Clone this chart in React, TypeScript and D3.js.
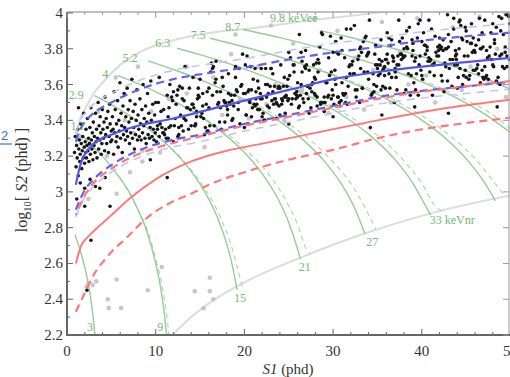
import React from 'react';
import * as d3 from 'd3';

// ER band (blue) and NR band (red) curves: [S1, log10 S2]
const erMedian = [[1, 3.04], [1.5, 3.15], [2, 3.21], [3, 3.27], [5, 3.32], [8, 3.37], [12, 3.41], [16, 3.46], [20, 3.51], [25, 3.57], [30, 3.63], [35, 3.67], [40, 3.70], [45, 3.725], [50, 3.75]];
const erUpper = [[1, 3.28], [1.5, 3.35], [2, 3.39], [3, 3.44], [5, 3.50], [8, 3.57], [12, 3.63], [16, 3.665], [20, 3.695], [25, 3.74], [30, 3.78], [35, 3.81], [40, 3.845], [45, 3.87], [50, 3.89]];
const erLower = [[1, 2.90], [1.5, 2.96], [2, 3.01], [3, 3.07], [5, 3.15], [8, 3.23], [11, 3.28], [15, 3.32], [20, 3.38], [25, 3.43], [30, 3.48], [35, 3.53], [40, 3.565], [45, 3.59], [50, 3.615]];
const erUpperLight = [[1, 3.33], [1.5, 3.40], [2, 3.44], [3, 3.49], [5, 3.55], [8, 3.62], [12, 3.68], [16, 3.715], [20, 3.745], [25, 3.79], [30, 3.83], [35, 3.86], [40, 3.895], [45, 3.92], [50, 3.94]];
const erLowerLight = [[1, 2.86], [1.5, 2.92], [2, 2.97], [3, 3.03], [5, 3.11], [8, 3.19], [11, 3.24], [15, 3.28], [20, 3.34], [25, 3.39], [30, 3.44], [35, 3.49], [40, 3.525], [45, 3.55], [50, 3.575]];
const nrMedian = [[1, 2.60], [1.6, 2.70], [2.2, 2.74], [3, 2.78], [5, 2.87], [7, 2.96], [10, 3.07], [14, 3.17], [18, 3.23], [22, 3.27], [28, 3.33], [35, 3.40], [43, 3.47], [50, 3.515]];
const nrUpper = [[1, 2.87], [2, 2.98], [3, 3.05], [5, 3.13], [8, 3.21], [11, 3.26], [15, 3.31], [20, 3.37], [25, 3.42], [30, 3.47], [35, 3.52], [40, 3.56], [45, 3.59], [50, 3.62]];
const nrLower = [[1, 2.33], [2, 2.435], [3, 2.535], [4.5, 2.636], [6.8, 2.748], [9, 2.854], [11.6, 2.938], [14, 2.99], [16, 3.04], [20, 3.11], [25, 3.18], [30, 3.235], [35, 3.30], [40, 3.35], [45, 3.385], [50, 3.415]];

// gray boundaries
const boundUpper = [[0.9, 3.30], [1.5, 3.41], [2, 3.46], [3, 3.55], [4, 3.61], [6, 3.71], [9, 3.80], [13, 3.86], [17, 3.895], [21, 3.915], [26, 3.95], [33, 3.99], [38, 4.02]];
const boundLower = [[11.9, 2.20], [14, 2.30], [17, 2.41], [20.6, 2.51], [26.2, 2.63], [33.7, 2.77], [41, 2.88], [50, 2.98]];

// energy contours (solid) and their dashed companions
const contours = [
  [[0.9, 2.76], [1.5, 2.67], [2.0, 2.58], [2.5, 2.46], [2.9, 2.32], [3.15, 2.2]],
  [[1.13, 3.33], [2, 3.30], [3, 3.25], [4, 3.20], [5, 3.14], [6, 3.075], [7, 3.0], [8, 2.90], [9, 2.78], [10, 2.60], [10.5, 2.48], [11, 2.31], [11.23, 2.2]],
  [[3.1, 3.538], [5, 3.488], [7, 3.428], [9, 3.359], [11, 3.277], [13, 3.176], [15, 3.043], [16, 2.958], [17, 2.852], [18, 2.711], [18.6, 2.598], [19.17, 2.452]],
  [[5.75, 3.65], [8, 3.605], [11, 3.536], [14, 3.454], [17, 3.352], [20, 3.22], [22, 3.102], [24, 2.941], [25, 2.829], [26, 2.679], [26.3, 2.625]],
  [[9.13, 3.732], [12, 3.684], [15, 3.628], [18, 3.563], [21, 3.486], [24, 3.393], [27, 3.274], [29, 3.172], [31, 3.039], [32.5, 2.902], [33.6, 2.765]],
  [[12.4, 3.803], [15, 3.767], [19, 3.704], [23, 3.63], [27, 3.542], [31, 3.43], [34, 3.323], [37, 3.179], [39, 3.048], [40.5, 2.915], [41.0, 2.87]],
  [[16.12, 3.859], [20, 3.81], [24, 3.754], [28, 3.689], [32, 3.612], [36, 3.52], [40, 3.401], [43, 3.285], [45, 3.186], [47, 3.057], [48.3, 2.95]],
  [[19.84, 3.908], [24, 3.862], [28, 3.812], [32, 3.756], [36, 3.691], [40, 3.615], [44, 3.523], [47, 3.438], [50, 3.332]],
  [[28.5, 3.902], [32, 3.863], [36, 3.813], [40, 3.757], [44, 3.693], [47, 3.638], [50, 3.574]],
];
const contoursDashed = [
  [[6, 3.075], [7, 2.995], [8, 2.90], [9.1, 2.78], [10.15, 2.60], [10.7, 2.48], [11.25, 2.31], [11.5, 2.2]],
  [[11, 3.277], [13.1, 3.176], [15.2, 3.043], [16.3, 2.958], [17.35, 2.852], [18.45, 2.711], [19.1, 2.598], [19.75, 2.47]],
  [[14, 3.454], [17.3, 3.352], [20.5, 3.22], [22.7, 3.102], [24.8, 2.941], [25.9, 2.829], [27.0, 2.679], [27.4, 2.65]],
  [[18, 3.563], [21.4, 3.486], [24.6, 3.393], [27.8, 3.274], [29.9, 3.172], [32.1, 3.039], [33.7, 2.902], [34.8, 2.79]],
  [[23, 3.63], [27.4, 3.542], [31.6, 3.43], [34.8, 3.323], [37.9, 3.179], [40, 3.048], [41.6, 2.915], [42.4, 2.89]],
  [[28, 3.689], [32.4, 3.612], [36.6, 3.52], [40.8, 3.401], [43.9, 3.285], [46, 3.186], [48.1, 3.057], [49.4, 2.975]],
  [[36, 3.691], [40.5, 3.615], [44.6, 3.523], [47.8, 3.438], [50.5, 3.33]],
];

const eeLabels = [
  { t: '1.7', s1: 0.4, v: 3.346 }, { t: '2.9', s1: 0.2, v: 3.52 }, { t: '4', s1: 4.3, v: 3.637 },
  { t: '5.2', s1: 7.1, v: 3.726 }, { t: '6.3', s1: 10.8, v: 3.81 }, { t: '7.5', s1: 14.8, v: 3.855 },
  { t: '8.7', s1: 18.7, v: 3.90 },
];
const nrLabels = [
  { t: '3', s1: 2.6, v: 2.222 }, { t: '9', s1: 10.5, v: 2.222 }, { t: '15', s1: 19.5, v: 2.385 },
  { t: '21', s1: 26.8, v: 2.558 }, { t: '27', s1: 34.4, v: 2.698 },
];

// events, S1 < 10
const eventsLow = [
  [0.85, 3.22], [0.93, 3.31], [1.02, 3.14], [1.08, 3.26], [1.15, 3.19], [1.21, 3.35], [1.27, 3.09], [1.33, 3.24], [1.38, 3.29], [1.44, 3.17], [1.49, 3.21], [1.56, 3.38], [1.61, 3.27], [1.66, 3.13], [1.72, 3.23], [1.78, 3.31], [1.83, 3.19], [1.88, 3.44], [1.94, 3.25], [1.99, 3.16],
  [2.05, 3.28], [2.11, 3.22], [2.14, 3.35], [2.19, 3.19], [2.26, 3.26], [2.31, 3.41], [2.36, 3.23], [2.42, 3.30], [2.47, 3.17], [2.53, 3.27], [2.58, 3.36], [2.64, 3.21], [2.69, 3.47], [2.75, 3.29], [2.81, 3.24], [2.86, 3.33], [2.92, 3.18], [2.97, 3.39],
  [3.04, 3.26], [3.09, 3.31], [3.16, 3.22], [3.21, 3.44], [3.27, 3.28], [3.33, 3.35], [3.38, 3.19], [3.45, 3.30], [3.51, 3.50], [3.57, 3.24], [3.62, 3.37], [3.69, 3.29], [3.74, 3.42], [3.81, 3.33], [3.86, 3.21], [3.93, 3.27], [3.98, 3.46],
  [4.05, 3.35], [4.11, 3.30], [4.17, 3.39], [4.24, 3.23], [4.29, 3.53], [4.36, 3.32], [4.42, 3.41], [4.48, 3.27], [4.55, 3.36], [4.61, 3.45], [4.67, 3.22], [4.74, 3.31], [4.8, 3.49], [4.86, 3.38], [4.93, 3.28], [4.99, 3.34],
  [1.1, 2.96], [2.0, 3.02], [3.2, 3.03], [4.3, 3.08], [2.0, 2.92], [2.7, 2.73], [2.25, 2.45], [3.7, 3.02], [1.5, 3.05], [2.6, 3.07], [1.3, 3.47], [4.85, 2.92],
  [5.06, 3.29], [5.12, 3.42], [5.19, 3.35], [5.25, 3.21], [5.31, 3.56], [5.38, 3.33], [5.44, 3.46], [5.52, 3.28], [5.58, 3.38], [5.63, 3.31], [5.71, 3.51], [5.77, 3.25], [5.84, 3.40], [5.9, 3.34], [5.97, 3.61],
  [6.04, 3.30], [6.1, 3.44], [6.17, 3.37], [6.23, 3.22], [6.31, 3.48], [6.37, 3.32], [6.44, 3.55], [6.5, 3.36], [6.58, 3.29], [6.63, 3.42], [6.71, 3.34], [6.78, 3.58], [6.84, 3.31], [6.9, 3.46], [6.98, 3.39],
  [7.05, 3.27], [7.11, 3.51], [7.18, 3.33], [7.26, 3.41], [7.32, 3.63], [7.38, 3.30], [7.46, 3.45], [7.53, 3.36], [7.6, 3.24], [7.67, 3.49], [7.73, 3.32], [7.8, 3.40], [7.87, 3.57], [7.94, 3.29],
  [8.01, 3.43], [8.09, 3.35], [8.15, 3.31], [8.22, 3.52], [8.3, 3.38], [8.36, 3.29], [8.44, 3.46], [8.51, 3.33], [8.58, 3.60], [8.65, 3.37], [8.71, 3.41], [8.79, 3.30], [8.86, 3.48], [8.93, 3.27],
  [9.0, 3.39], [9.08, 3.55], [9.15, 3.32], [9.22, 3.44], [9.3, 3.30], [9.37, 3.36], [9.45, 3.62], [9.51, 3.40], [9.59, 3.31], [9.66, 3.49], [9.73, 3.35], [9.81, 3.29], [9.88, 3.43], [9.95, 3.33], [9.4, 3.18],
];

// events, 10 <= S1 < 20
const eventsMid = [
  [14.3, 3.47], [10.8, 3.33], [17.6, 3.59], [12.2, 3.41], [19.4, 3.69], [15.9, 3.34], [11.5, 3.47], [18.3, 3.50], [13.1, 3.34], [16.7, 3.61], [10.2, 3.35], [14.9, 3.53], [19.8, 3.77], [12.9, 3.37], [17.1, 3.50],
  [11.1, 3.35], [15.3, 3.55], [18.9, 3.54], [13.7, 3.35], [16.2, 3.67], [10.5, 3.38], [19.1, 3.57], [14.6, 3.42], [12.5, 3.57], [17.9, 3.50], [15.6, 3.36], [11.8, 3.53], [18.5, 3.54], [13.4, 3.40], [16.9, 3.56],
  [11.3, 3.54], [18.1, 3.43], [13.9, 3.46], [16.4, 3.69], [10.1, 3.28], [19.6, 3.59], [15.1, 3.42], [12.7, 3.59], [17.4, 3.35], [14.1, 3.49], [11.9, 3.51], [18.7, 3.41], [16.0, 3.47], [13.3, 3.70], [10.7, 3.36],
  [19.2, 3.56], [15.8, 3.34], [12.0, 3.56], [17.7, 3.51], [14.4, 3.37], [11.6, 3.60], [18.0, 3.48], [13.0, 3.52], [16.6, 3.37], [10.4, 3.64], [19.9, 3.55], [15.4, 3.41], [12.4, 3.54], [17.2, 3.39], [14.7, 3.52],
  [15.2, 3.44], [10.3, 3.50], [18.6, 3.40], [13.6, 3.47], [16.8, 3.63], [12.1, 3.37], [19.3, 3.50], [14.2, 3.64], [11.4, 3.30], [17.3, 3.56], [15.7, 3.49], [10.9, 3.33], [19.0, 3.64], [13.2, 3.41], [16.3, 3.72],
  [12.6, 3.32], [18.2, 3.55], [14.8, 3.54], [11.0, 3.32], [17.8, 3.50], [11.3, 3.08],
  [10.6, 3.45], [16.1, 3.37], [13.8, 3.58], [18.4, 3.49], [11.7, 3.37], [15.0, 3.63], [19.5, 3.38], [12.3, 3.49], [17.0, 3.49], [14.5, 3.38], [10.0, 3.50], [18.8, 3.48], [16.5, 3.70], [11.2, 3.30], [13.5, 3.47],
  [19.7, 3.60], [15.5, 3.32], [12.8, 3.43], [17.5, 3.64], [14.0, 3.37], [10.9, 3.46], [18.1, 3.46], [16.0, 3.58], [12.5, 3.31], [15.3, 3.48], [19.0, 3.70], [11.5, 3.36], [13.2, 3.51], [17.3, 3.47], [14.8, 3.58],
  [10.4, 3.31], [18.6, 3.51], [16.8, 3.73], [12.0, 3.28], [14.2, 3.49], [19.3, 3.46], [15.8, 3.56], [11.4, 3.42], [17.8, 3.39], [13.0, 3.58], [10.2, 3.37], [16.4, 3.54], [12.6, 3.36], [18.2, 3.66], [14.6, 3.45],
];

// events, S1 >= 20
const eventsHigh = [
  [37.4, 3.71], [22.8, 3.47], [45.1, 3.84], [29.3, 3.61], [41.7, 3.76], [24.6, 3.44], [33.9, 3.67], [48.2, 3.83], [20.9, 3.47], [39.5, 3.86], [27.1, 3.59], [43.8, 3.76], [31.2, 3.54], [46.6, 3.80], [23.4, 3.52],
  [36.1, 3.89], [49.3, 3.69], [26.0, 3.61], [34.7, 3.77], [42.5, 3.56], [21.6, 3.58], [38.8, 3.65], [30.4, 3.78], [47.9, 3.74], [25.3, 3.49], [44.2, 3.80], [32.6, 3.53], [28.5, 3.81], [40.1, 3.63], [35.8, 3.70],
  [20.3, 3.76], [43.1, 3.69], [27.8, 3.71], [38.2, 3.57], [31.9, 3.71], [46.0, 3.68], [24.1, 3.71], [35.3, 3.66], [49.8, 3.98], [22.2, 3.40], [41.0, 3.74], [29.9, 3.57], [33.2, 3.78], [47.4, 3.75], [26.7, 3.50],
  [44.9, 3.92], [21.1, 3.49], [37.9, 3.75], [30.8, 3.48], [42.8, 3.80], [25.9, 3.54], [48.8, 3.76], [36.6, 3.85], [23.7, 3.49], [40.6, 3.81], [28.9, 3.50], [45.7, 3.78], [34.1, 3.96], [20.6, 3.51], [39.1, 3.61],
  [32.1, 3.71], [47.0, 3.63], [21.9, 3.69], [40.9, 3.67], [27.3, 3.68], [36.9, 3.50], [44.6, 3.85], [29.6, 3.65], [24.9, 3.51], [49.0, 3.97], [34.4, 3.55], [20.1, 3.55], [42.1, 3.80], [38.5, 3.66], [23.0, 3.69],
  [45.4, 3.65], [31.5, 3.91], [48.5, 3.61], [26.4, 3.60], [35.0, 3.71], [41.4, 3.65], [28.1, 3.72], [46.9, 3.64], [33.6, 3.86], [22.5, 3.53], [39.8, 3.76], [30.1, 3.49], [43.5, 3.74], [25.5, 3.71], [37.1, 3.64],
  [46.3, 3.71], [20.7, 3.70], [35.6, 3.59], [41.9, 3.76], [28.4, 3.72], [44.0, 3.58], [23.9, 3.59], [38.6, 3.92], [31.7, 3.59], [49.6, 3.76], [26.2, 3.48], [33.0, 3.80], [47.7, 3.81], [21.4, 3.49], [42.9, 3.99],
  [36.4, 3.58], [24.4, 3.59], [40.3, 3.82], [29.0, 3.45], [45.9, 3.79], [27.6, 3.60], [37.7, 3.77], [34.9, 3.59], [48.0, 3.94], [22.9, 3.59], [43.4, 3.59], [30.6, 3.77], [39.4, 3.66], [25.1, 3.65], [46.8, 3.89],
  [21.3, 3.56], [44.7, 3.65], [32.9, 3.76], [39.9, 3.68], [26.9, 3.79], [48.4, 3.62], [35.5, 3.73], [23.2, 3.56], [42.3, 3.62], [30.0, 3.78], [46.2, 3.69], [37.3, 3.76], [28.8, 3.88], [41.2, 3.54], [24.8, 3.59],
  [49.1, 3.70], [33.8, 3.76], [20.4, 3.56], [38.0, 3.55], [44.4, 3.93], [27.4, 3.58], [35.2, 3.74], [45.0, 3.64], [31.0, 3.79], [22.7, 3.55], [47.2, 3.64], [29.5, 3.75], [40.8, 3.75], [25.7, 3.55], [36.7, 3.76],
  [38.3, 3.81], [23.6, 3.50], [43.9, 3.74], [30.9, 3.86], [47.5, 3.63], [26.5, 3.67], [34.0, 3.63], [41.5, 3.87], [20.0, 3.36], [36.2, 3.72], [45.6, 3.83], [28.2, 3.53], [32.3, 3.66], [49.7, 3.99], [24.2, 3.52],
  [39.3, 3.75], [22.0, 3.42], [42.0, 3.86], [27.9, 3.64], [46.4, 3.66], [33.4, 3.84], [21.8, 3.52], [37.6, 3.77], [48.6, 3.64], [29.7, 3.87], [44.8, 3.76], [25.0, 3.52], [40.4, 3.82], [31.4, 3.50], [35.9, 3.74],
  [42.7, 3.70], [27.0, 3.71], [45.3, 3.63], [33.1, 3.69], [38.9, 3.85], [21.2, 3.48], [47.8, 3.74], [30.3, 3.84], [24.0, 3.43], [36.8, 3.75], [49.4, 3.78], [26.6, 3.52], [40.0, 3.84], [29.2, 3.61], [43.6, 3.97],
  [34.6, 3.56], [22.4, 3.60], [46.1, 3.82], [31.6, 3.49], [39.7, 3.71], [25.6, 3.71], [48.1, 3.70], [35.4, 3.85], [44.1, 3.64], [20.8, 3.57], [37.0, 3.69], [28.6, 3.50], [41.8, 3.81], [32.4, 3.93], [23.3, 3.49],
  [29.8, 3.67], [44.3, 3.69], [21.5, 3.62], [37.2, 3.57], [48.9, 3.90], [33.5, 3.67], [25.4, 3.52], [41.1, 3.91], [46.7, 3.80], [30.7, 3.50], [23.8, 3.58], [38.4, 3.80], [27.2, 3.52], [43.0, 3.88], [35.1, 3.65],
  [20.5, 3.57], [47.3, 3.65], [32.0, 3.91], [40.7, 3.73], [26.3, 3.54], [45.5, 3.83], [34.3, 3.54], [22.6, 3.60], [39.0, 3.83], [49.9, 3.74], [28.0, 3.54], [36.3, 3.86], [42.4, 3.79], [24.5, 3.53], [31.3, 3.75],
  [35.7, 3.69], [20.2, 3.43], [43.3, 3.84], [28.3, 3.67], [39.6, 3.54], [47.1, 3.96], [24.7, 3.54], [32.8, 3.74], [41.3, 3.71], [22.1, 3.44], [37.5, 3.84], [45.8, 3.68], [30.2, 3.68], [49.5, 3.99], [26.1, 3.47],
  [36.0, 3.74], [43.7, 3.71], [21.0, 3.63], [33.3, 3.58], [40.2, 3.89], [48.3, 3.77], [27.5, 3.47], [38.1, 3.76], [44.5, 3.86], [23.1, 3.51], [31.1, 3.55], [46.5, 3.97], [34.8, 3.71], [25.8, 3.52], [42.2, 3.81],
  [23.5, 3.52], [41.6, 3.78], [29.1, 3.50], [36.5, 3.82], [47.6, 3.76], [21.7, 3.46], [33.7, 3.87], [44.0, 3.71], [26.8, 3.70], [38.7, 3.54], [31.8, 3.70], [49.2, 3.88], [24.3, 3.51], [42.6, 3.72], [28.7, 3.89],
  [35.9, 3.58], [45.9, 3.79], [20.6, 3.50], [37.8, 3.86], [30.5, 3.53], [43.2, 3.74], [25.6, 3.67], [34.6, 3.60], [48.7, 3.98], [22.3, 3.40], [40.4, 3.77], [27.7, 3.61], [46.4, 3.85], [32.5, 3.57], [39.2, 3.73],
  [21.2, 3.69], [44.9, 3.68], [28.0, 3.63], [35.4, 3.57], [49.9, 3.94], [24.9, 3.63], [37.0, 3.67], [42.0, 3.82], [30.9, 3.51], [46.9, 3.81], [26.2, 3.88], [33.3, 3.58], [40.9, 3.73], [23.0, 3.69], [48.0, 3.71],
  [31.4, 3.55], [38.3, 3.90], [43.9, 3.77], [27.3, 3.44], [36.1, 3.77],
  [45.2, 3.76], [22.6, 3.48], [38.0, 3.80], [29.4, 3.53], [41.2, 3.71], [25.2, 3.75], [47.1, 3.70], [32.2, 3.73], [20.4, 3.38], [36.8, 3.73], [43.6, 3.91], [27.0, 3.55], [49.0, 3.77], [33.9, 3.77], [23.9, 3.48],
  [39.6, 3.94], [30.2, 3.63], [44.6, 3.60], [26.9, 3.69], [35.0, 3.69], [21.5, 3.46], [47.8, 3.89], [31.5, 3.64], [40.0, 3.65], [28.3, 3.74], [42.9, 3.62], [24.5, 3.64], [37.4, 3.96], [33.0, 3.50], [46.0, 3.78],
  [22.0, 3.52], [39.0, 3.79], [29.8, 3.52], [48.4, 3.92], [35.6, 3.68], [26.0, 3.53], [42.4, 3.85], [31.0, 3.61], [44.2, 3.95], [20.2, 3.43], [37.7, 3.74], [28.6, 3.49], [41.9, 3.79], [24.0, 3.58], [34.8, 3.82],
  [49.6, 3.70], [23.2, 3.66], [36.3, 3.66], [45.6, 3.94], [30.0, 3.54],
  [27.6, 3.56], [40.6, 3.79], [21.8, 3.55], [46.6, 3.61], [33.1, 3.81], [25.9, 3.56], [38.9, 3.76], [44.3, 3.96], [29.0, 3.53], [35.3, 3.71], [23.6, 3.41], [48.2, 3.85], [31.9, 3.66], [42.2, 3.65], [26.4, 3.78],
  [37.2, 3.71], [20.8, 3.42], [45.8, 3.86], [30.3, 3.60], [39.8, 3.96], [24.2, 3.49], [49.4, 3.81], [34.5, 3.66], [28.2, 3.48], [43.0, 3.81], [22.4, 3.69], [36.6, 3.64], [47.3, 3.79], [32.7, 3.57], [25.0, 3.78],
  [41.4, 3.72], [30.6, 3.53], [37.9, 3.76], [21.3, 3.52], [45.0, 3.90], [27.9, 3.55], [34.0, 3.78], [48.8, 3.60], [23.4, 3.59], [40.8, 3.96], [29.5, 3.54], [43.8, 3.79], [35.8, 3.65], [26.5, 3.73], [46.8, 3.68],
  [32.4, 3.66], [20.1, 3.71], [39.3, 3.57], [42.7, 3.80], [24.7, 3.53],
  [35.5, 3.43], [39.2, 3.475], [48.5, 3.475], [25.0, 3.38], [30.0, 3.42], [43.0, 3.44], [34.2, 3.36],
];

const grayPoints = [
  [2.4, 2.49], [2.9, 2.48], [3.3, 2.50], [5.6, 2.51], [4.6, 2.40], [4.7, 2.35], [6.1, 2.35], [9.1, 2.45], [10.7, 2.58], [14.4, 2.445], [16.1, 2.52], [16.1, 2.445], [16.5, 2.40], [15.4, 2.35], [5.6, 2.99], [2.4, 2.96], [8.5, 3.17], [7.1, 3.11], [2.2, 2.47],
  [1.5, 3.30], [3.5, 3.45], [4.5, 3.20], [6.5, 3.40], [7.5, 3.33], [8.5, 3.23], [9.5, 3.45], [10.5, 3.22], [11.5, 3.52], [12.5, 3.30], [13.5, 3.55], [14.5, 3.37], [15.5, 3.25], [16.5, 3.64], [17.5, 3.43], [18.5, 3.77], [19.5, 3.52], [20.5, 3.41], [21.5, 3.70], [22.5, 3.49], [23.5, 3.60], [24.5, 3.40], [25.5, 3.83], [26.5, 3.57], [27.5, 3.45], [28.5, 3.68], [29.5, 3.44], [30.5, 3.90], [31.5, 3.53], [32.5, 3.75], [33.5, 3.46], [34.5, 3.68], [35.5, 3.95], [36.5, 3.50], [37.5, 3.78], [38.5, 3.60], [39.5, 3.97], [40.5, 3.65], [41.5, 3.50], [42.5, 3.80], [43.5, 3.92], [44.5, 3.57], [45.5, 3.70], [46.5, 3.98], [47.5, 3.62], [48.5, 3.80], [49.5, 3.53], [23, 3.93], [28, 3.97], [19, 3.88], [13.5, 3.70], [5.5, 3.64], [8, 3.70],
];

const xTicks = [0, 10, 20, 30, 40, 50];
const yTicks = [2.2, 2.4, 2.6, 2.8, 3, 3.2, 3.4, 3.6, 3.8, 4];

export default function App() {
  const W = 510, H = 377;
  const x = d3.scaleLinear().domain([0, 50]).range([67, 510.5]);
  const y = d3.scaleLinear().domain([2.2, 4]).range([335, 13]);
  const line = d3.line<number[]>().x(d => x(d[0])).y(d => y(d[1])).curve(d3.curveMonotoneX);
  const serif = "'Liberation Serif', 'DejaVu Serif', serif";
  const xMinor = d3.range(0, 51, 2);
  const yMinor = d3.range(2.2, 4.001, 0.1);
  const blackPoints = [...eventsLow, ...eventsMid, ...eventsHigh];

  return (
    <svg width={W} height={H} style={{ position: 'absolute', left: 0, top: 0, background: '#fff' }}>
      <defs>
        <clipPath id="plot">
          <rect x={67} y={12} width={444} height={323} />
        </clipPath>
      </defs>
      <g clipPath="url(#plot)">
        <path d={line(boundUpper)!} fill="none" stroke="#dcdcdc" strokeWidth={2} />
        <path d={line(boundLower)!} fill="none" stroke="#dcdcdc" strokeWidth={2} />
        {contoursDashed.map((c, i) => (
          <path key={'cd' + i} d={line(c)!} fill="none" stroke="#a8d6a8" strokeWidth={1.1} strokeDasharray="5,4" />
        ))}
        {contours.map((c, i) => (
          <path key={'c' + i} d={line(c)!} fill="none" stroke="#8cc78c" strokeWidth={1.4} opacity={0.9} />
        ))}
        {grayPoints.map((p, i) => (
          <circle key={'g' + i} cx={x(p[0])} cy={y(p[1])} r={2.3} fill="#bdbdbd" opacity={0.85} />
        ))}
        {blackPoints.map((p, i) => (
          <circle key={'b' + i} cx={x(p[0])} cy={y(p[1])} r={1.8} fill="#161616" />
        ))}
        <path d={line(nrLower)!} fill="none" stroke="#ff7878" strokeWidth={2.2} strokeDasharray="8,5" />
        <path d={line(nrMedian)!} fill="none" stroke="#ff7878" strokeWidth={1.9} />
        <path d={line(erUpperLight)!} fill="none" stroke="#c0c4f6" strokeWidth={1.6} strokeDasharray="8,6" />
        <path d={line(erLowerLight)!} fill="none" stroke="#c0c4f6" strokeWidth={1.6} strokeDasharray="8,6" />
        <path d={line(erLower)!} fill="none" stroke="#6262ee" strokeWidth={2.2} strokeDasharray="8,5" />
        <path d={line(nrUpper)!} fill="none" stroke="#ff7878" strokeWidth={2.2} strokeDasharray="8,5" strokeDashoffset={6} />
        <path d={line(erUpper)!} fill="none" stroke="#6262ee" strokeWidth={2.2} strokeDasharray="8,5" />
        <path d={line(erMedian)!} fill="none" stroke="#5555ea" strokeWidth={2.2} />
      </g>

      {eeLabels.map(l => (
        <text key={l.t} x={x(l.s1)} y={y(l.v)} fontFamily={serif} fontSize={12} fill="#6cbd6c" textAnchor={l.s1 < 2 ? 'start' : 'middle'}>{l.t}</text>
      ))}
      <text x={x(22.9)} y={y(3.95)} fontFamily={serif} fontSize={12} fill="#6cbd6c">9.8 keVee</text>
      {nrLabels.map(l => (
        <text key={l.t} x={x(l.s1)} y={y(l.v)} fontFamily={serif} fontSize={12} fill="#6cbd6c" textAnchor="middle">{l.t}</text>
      ))}
      <text x={x(40.9)} y={y(2.82)} fontFamily={serif} fontSize={12} fill="#6cbd6c">33 keVnr</text>

      {/* frame */}
      <line x1={67} x2={510} y1={12} y2={12} stroke="#aaa" strokeWidth={1.5} />
      <line x1={509} x2={509} y1={12} y2={335} stroke="#aaa" strokeWidth={1.2} />
      <line x1={67} x2={67} y1={12} y2={336} stroke="#666" strokeWidth={2} />
      <line x1={66} x2={510} y1={335} y2={335} stroke="#666" strokeWidth={2} />
      {xMinor.map(t => (
        <g key={'xm' + t}>
          <line x1={x(t)} x2={x(t)} y1={335} y2={t % 10 === 0 ? 329 : 332} stroke="#666" />
          <line x1={x(t)} x2={x(t)} y1={12} y2={t % 10 === 0 ? 18 : 15} stroke="#999" />
        </g>
      ))}
      {yMinor.map((t, i) => (
        <g key={'ym' + i}>
          <line x1={67} x2={i % 2 === 0 ? 73 : 70} y1={y(t)} y2={y(t)} stroke="#666" />
          {i % 2 === 0 && <line x1={509} x2={503} y1={y(t)} y2={y(t)} stroke="#999" />}
        </g>
      ))}
      {xTicks.map(t => (
        <text key={'xt' + t} x={x(t)} y={356} fontFamily={serif} fontSize={15} fill="#333" textAnchor="middle">{t}</text>
      ))}
      {yTicks.map(t => (
        <text key={'yt' + t} x={63} y={y(t) + 5} fontFamily={serif} fontSize={15} fill="#333" textAnchor="end">{d3.format('~g')(t)}</text>
      ))}
      <text x={288} y={374} fontFamily={serif} fontSize={15} fill="#333" textAnchor="middle">
        <tspan fontStyle="italic">S1</tspan> (phd)
      </text>
      <text transform="translate(27,180) rotate(-90)" fontFamily={serif} fontSize={16} fill="#333" textAnchor="middle">
        log<tspan fontSize={10.5} dy={4}>10</tspan><tspan dy={-4}>[ </tspan><tspan fontStyle="italic">S2</tspan> (phd) ]
      </text>
      <text x={1} y={140} fontFamily="'Liberation Sans', sans-serif" fontSize={13} fill="#3d6fd6">2</text>
      <line x1={0} x2={12} y1={144} y2={144} stroke="#3d6fd6" strokeWidth={1.2} />
    </svg>
  );
}
